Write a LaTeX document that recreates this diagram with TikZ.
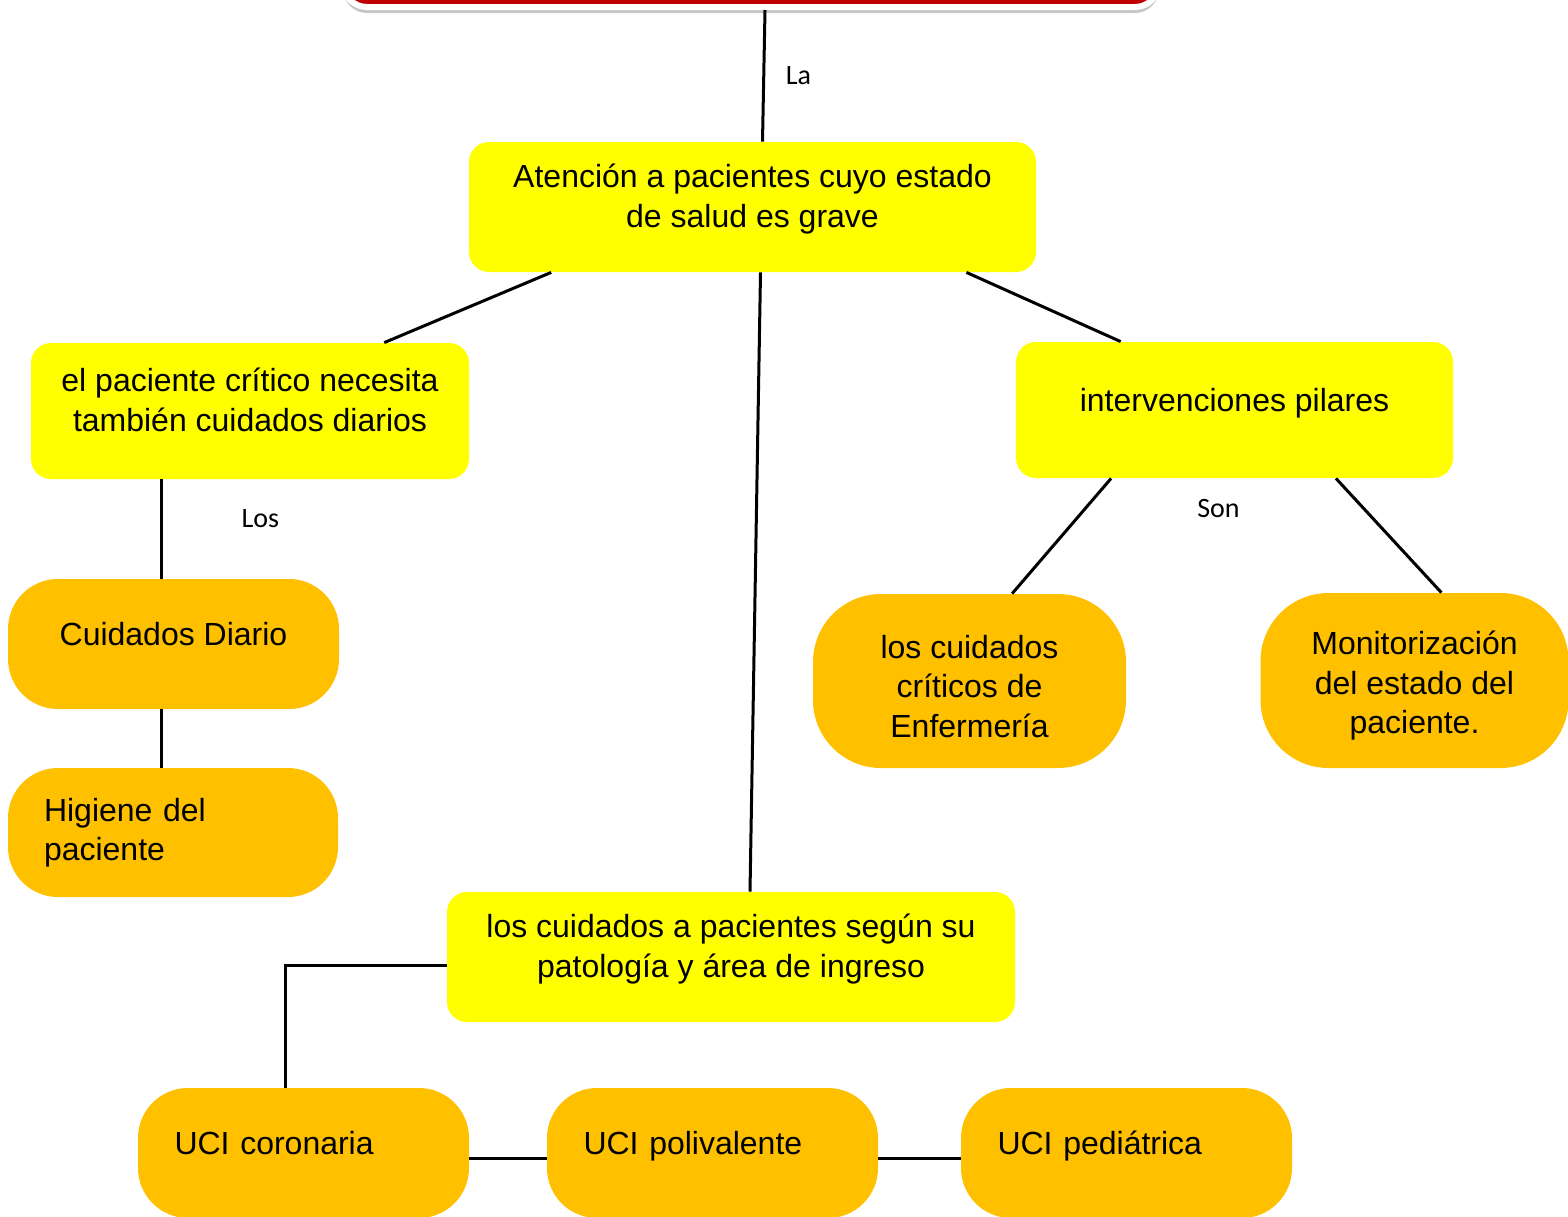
\documentclass[tikz,border=0pt]{standalone}
\usepackage{fontspec}
\setmainfont{Liberation Sans}
\newfontfamily\lblfont{Carlito}
\usepackage{tikz}
\usetikzlibrary{positioning,shadows}
\definecolor{amarillo}{RGB}{255,255,0}
\definecolor{naranja}{RGB}{255,192,0}
\definecolor{rojo}{RGB}{192,0,0}
\newcommand{\alto}{\rule{0pt}{17pt}}
\tikzset{
	x=0.5pt, y=-0.5pt, % one unit is one pixel of the sheet
	every node/.style={font=\fontsize{16}{19.75}\selectfont},
	conn/.style={line width=1.5pt},
	titulo/.style={draw=white, line width=3pt, fill=rojo, rounded corners=12pt,
		minimum width=408pt, minimum height=60pt, anchor=south,
		drop shadow={opacity=0.45, shadow xshift=0pt, shadow yshift=-3pt}},
	concepto/.style={fill=amarillo, rounded corners=10pt, align=center, inner sep=0pt},
	hoja/.style={fill=naranja, rounded corners=25pt, inner sep=0pt},
	izq/.style={align=left, inner xsep=18pt, text width=129pt},
	arriba/.style={execute at begin node={\rule{0pt}{13pt}},
		execute at end node={\rule[-11.5pt]{0pt}{0pt}}}, % text sits high in the box
	lbl/.style={font=\lblfont\fontsize{14}{16}\selectfont},
}
\begin{document}
\begin{tikzpicture}
        \useasboundingbox (0,0) rectangle (1568,1216);
        \node[titulo] (tema) at (751,10) {};
        \node[concepto, arriba, minimum width=283.5pt, minimum height=65pt] (atencion) at (752.5,207) {Atención a pacientes cuyo estado\\de salud es grave};
        \node[concepto, arriba, minimum width=219pt, minimum height=68pt] (paciente) at (250,411) {el paciente crítico necesita\\también cuidados diarios};
        \node[concepto, arriba, minimum width=218.5pt, minimum height=68pt] (interv) at (1234.5,410) {intervenciones pilares};
        \node[concepto, arriba, minimum width=284pt, minimum height=65pt] (patologia) at (731,957) {los cuidados a pacientes según su\\patología y área de ingreso};

        \node[hoja, arriba, align=center, minimum width=165.5pt, minimum height=65pt] (diario) at (173.5,644) {Cuidados Diario};
        \node[hoja, izq, minimum width=165pt, minimum height=64.5pt] (higiene) at (173,832.5) {Higiene del\\paciente};
        \node[hoja, align=center, rounded corners=34pt, minimum width=156.5pt, minimum height=87pt] (criticos) at (969.5,681) {\alto los cuidados\\críticos de\\Enfermería};
        \node[hoja, align=center, rounded corners=34pt, minimum width=154pt, minimum height=87.5pt] (monitor) at (1414.5,680.5) {\alto Monitorización\\del estado del\\paciente.};
        \node[hoja, izq, arriba, minimum width=165.5pt, minimum height=65pt] (coronaria) at (303.5,1153) {UCI coronaria};
        \node[hoja, izq, arriba, minimum width=165.5pt, minimum height=65pt] (polivalente) at (712.5,1153) {UCI polivalente};
        \node[hoja, izq, arriba, minimum width=165.5pt, minimum height=65pt] (pediatrica) at (1126.5,1153) {UCI pediátrica};

        \draw[conn] ([xshift=7pt]tema.south) -- node[lbl, right=7pt] (la) {La} ([xshift=5pt]atencion.north);
        \draw[conn] (atencion.198) -- (paciente.27);
        \draw[conn] (atencion.-17.5) -- (interv.149);
        \draw[conn] ([xshift=4pt]atencion.south) -- ([xshift=9.5pt]patologia.north);

        \draw[conn] ([xshift=-6pt]diario.north) -- node[lbl, pos=0.6, right=36pt] (los) {Los} ([xshift=-6pt]diario.north |- paciente.south);
        \draw[conn] ([xshift=-6pt]diario.south) -- ([xshift=-6pt]diario.south |- higiene.north);

        \node[lbl, below=7pt of interv, xshift=-8pt] (son) {Son};
        \draw[conn] (interv.209) -- (criticos.64.5);
        \draw[conn] (interv.-34) -- (monitor.73);

        \draw[conn] ([yshift=-4pt]patologia.west) -| ([xshift=-9.25pt]coronaria.north);
        \draw[conn] ([yshift=-2.5pt]coronaria.east) -- ([yshift=-2.5pt]polivalente.west);
        \draw[conn] ([yshift=-2.5pt]polivalente.east) -- ([yshift=-2.5pt]pediatrica.west);
\end{tikzpicture}
\end{document}
